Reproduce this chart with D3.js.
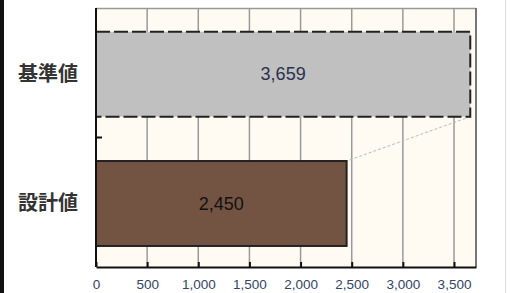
<!DOCTYPE html>
<html>
<head>
<meta charset="utf-8">
<script src="https://cdn.jsdelivr.net/npm/d3@7"></script>
<style>
  body { margin: 0; background: #fff; }
  svg { display: block; }
</style>
</head>
<body>
<div id="viz"></div>
<script>
// Data
const categories = ["基準値", "設計値"];
const values = [3659, 2450];
const tickValues = [0, 500, 1000, 1500, 2000, 2500, 3000, 3500];

const dims = {
    width: 515,
    height: 293,
    margin: { top: 8, right: 39, bottom: 26, left: 96 }
};
const innerW = dims.width - dims.margin.left - dims.margin.right;
const innerH = dims.height - dims.margin.top - dims.margin.bottom;

const svg = d3.select("#viz")
    .append("svg")
    .attr("width", dims.width)
    .attr("height", dims.height);

// left black edge and right light line of the original page
svg.append("rect").attr("x", 0).attr("y", 0).attr("width", 4).attr("height", dims.height).attr("fill", "#111");
svg.append("line").attr("x1", 505.5).attr("x2", 505.5).attr("y1", 0).attr("y2", dims.height)
    .attr("stroke", "#ddd").attr("stroke-width", 1);

const g = svg.append("g")
    .attr("transform", `translate(${dims.margin.left},${dims.margin.top})`);

const x = d3.scaleLinear().domain([0, 3715]).range([0, innerW]);
const y = d3.scaleBand().domain(categories).range([0, innerH])
    .paddingInner(0.343).paddingOuter(0.173).align(0.53);

// plot background
g.append("rect")
    .attr("width", innerW).attr("height", innerH)
    .attr("fill", "#fffaf2");

// vertical gridlines
g.selectAll("line.grid")
    .data(tickValues.slice(1))
    .enter().append("line")
    .attr("class", "grid")
    .attr("x1", d => x(d)).attr("x2", d => x(d))
    .attr("y1", 0).attr("y2", innerH)
    .attr("stroke", "#9a9a9a").attr("stroke-width", 1.5);

// frame (top/right)
g.append("line").attr("x1", 0).attr("x2", innerW).attr("y1", 0.5).attr("y2", 0.5)
    .attr("stroke", "#999").attr("stroke-width", 1.5);
g.append("line").attr("x1", innerW).attr("x2", innerW).attr("y1", 0).attr("y2", innerH)
    .attr("stroke", "#777").attr("stroke-width", 2);

// connector line between bar ends
g.append("line")
    .attr("x1", x(values[0])).attr("y1", y(categories[0]) + y.bandwidth())
    .attr("x2", x(values[1])).attr("y2", y(categories[1]))
    .attr("stroke", "#bbb").attr("stroke-width", 1)
    .attr("stroke-dasharray", "3,2");

// bars
g.selectAll("rect.bar")
    .data(categories)
    .enter().append("rect")
    .attr("class", "bar")
    .attr("x", 0)
    .attr("y", d => y(d))
    .attr("width", (d, i) => x(values[i]))
    .attr("height", y.bandwidth())
    .attr("fill", (d, i) => i === 0 ? "#c0c0c0" : "#735442")
    .attr("stroke", "#222")
    .attr("stroke-width", 2)
    .attr("stroke-dasharray", (d, i) => i === 0 ? "14,4" : null);

// value labels
g.selectAll("text.val")
    .data(categories)
    .enter().append("text")
    .attr("class", "val")
    .attr("x", (d, i) => x(values[i]) / 2)
    .attr("y", d => y(d) + y.bandwidth() / 2)
    .attr("dy", "0.35em")
    .attr("text-anchor", "middle")
    .attr("font-family", "'Liberation Sans', Arial, sans-serif")
    .attr("font-size", 18)
    .attr("fill", (d, i) => i === 0 ? "#2a3050" : "#111")
    .text((d, i) => d3.format(",")(values[i]));

// category labels
g.selectAll("text.cat")
    .data(categories)
    .enter().append("text")
    .attr("class", "cat")
    .attr("x", -18)
    .attr("y", d => y(d) + y.bandwidth() / 2)
    .attr("dy", "0.35em")
    .attr("text-anchor", "end")
    .attr("font-family", "'Noto Sans CJK JP', sans-serif")
    .attr("font-size", 20)
    .attr("font-weight", "bold")
    .attr("fill", "#333")
    .text(d => d);

// x axis (inner ticks)
const xAxis = g.append("g")
    .attr("transform", `translate(0,${innerH})`)
    .call(d3.axisBottom(x).tickValues(tickValues).tickSizeInner(-5).tickSizeOuter(0)
        .tickFormat(d3.format(",")));
xAxis.select(".domain").attr("stroke", "#111").attr("stroke-width", 2);
xAxis.selectAll(".tick line").attr("stroke", "#111").attr("stroke-width", 2);
xAxis.selectAll(".tick text")
    .attr("y", 22)
    .attr("dy", null)
    .attr("font-family", "'Liberation Sans', Arial, sans-serif")
    .attr("font-size", 13.5)
    .attr("fill", "#334466");

// y axis line with centre tick
g.append("line").attr("x1", 0).attr("x2", 0).attr("y1", 0).attr("y2", innerH)
    .attr("stroke", "#111").attr("stroke-width", 2);
g.append("line").attr("x1", 0).attr("x2", 6).attr("y1", innerH / 2).attr("y2", innerH / 2)
    .attr("stroke", "#111").attr("stroke-width", 2);
</script>
</body>
</html>
